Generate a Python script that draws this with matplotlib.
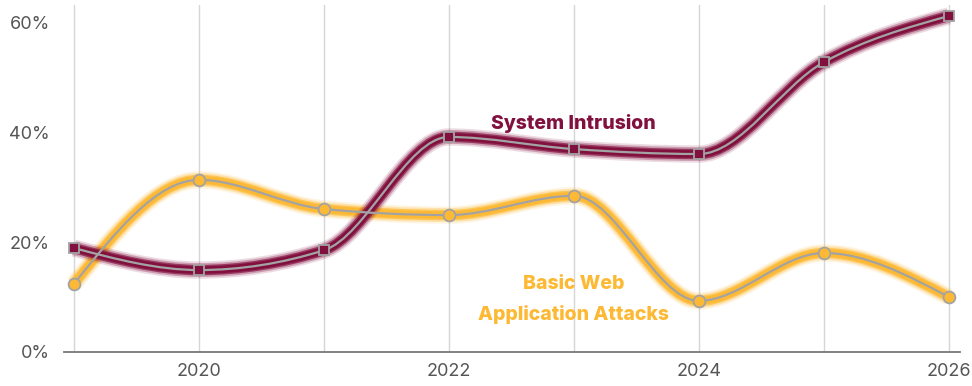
import numpy as np
import matplotlib
matplotlib.use("Agg")
import matplotlib.pyplot as plt
from matplotlib.path import Path
from matplotlib.patches import PathPatch

# ── Data ──────────────────────────────────────────────────────────────────────

YEARS = [2019, 2020, 2021, 2022, 2023, 2024, 2025, 2026]
SYSTEM_INTRUSION = [18.9, 14.9, 18.5, 39.1, 36.9, 36.0, 52.7, 61.1]
BASIC_WEB = [12.4, 31.3, 26.0, 24.9, 28.4, 9.3, 18.0, 10.0]

Y_TICKS = [0, 20, 40, 60]
Y_TICK_LABELS = ["0%", "20%", "40%", "60%"]
X_TICKS = [2020, 2022, 2024, 2026]
X_TICK_LABELS = ["2020", "2022", "2024", "2026"]

MAROON = "#82103f"
YELLOW = "#fdb934"
GRAY_LINE = "#a3a3a3"


# ── Helpers ───────────────────────────────────────────────────────────────────

def monotone_path(xs, ys):
    """Cubic Bezier path through the points (monotone-x tangents, like d3)."""
    x = np.asarray(xs, float)
    y = np.asarray(ys, float)
    h = np.diff(x)
    s = np.diff(y) / h
    m = np.zeros_like(y)
    for i in range(1, len(y) - 1):
        if s[i - 1] * s[i] <= 0:
            m[i] = 0.0
        else:
            p = (s[i - 1] * h[i] + s[i] * h[i - 1]) / (h[i - 1] + h[i])
            m[i] = np.sign(s[i - 1]) * min(abs(s[i - 1]), abs(s[i]), 0.5 * abs(p)) * 2
    m[0] = (3 * s[0] - m[1]) / 2
    m[-1] = (3 * s[-1] - m[-2]) / 2
    verts = [(x[0], y[0])]
    codes = [Path.MOVETO]
    for i in range(len(x) - 1):
        d = h[i] / 3
        verts += [(x[i] + d, y[i] + m[i] * d),
                  (x[i + 1] - d, y[i + 1] - m[i + 1] * d),
                  (x[i + 1], y[i + 1])]
        codes += [Path.CURVE4] * 3
    return Path(verts, codes)


def draw_band(ax, path, color):
    for lw, a in [(12.5, 0.15), (10.0, 0.3), (7.5, 0.7), (5.5, 1.0)]:
        ax.add_patch(PathPatch(path, fill=False, edgecolor=color, lw=lw,
                               alpha=a, capstyle="butt", zorder=2))


# ── Figure ────────────────────────────────────────────────────────────────────

plt.rcParams["font.family"] = ["Inter", "DejaVu Sans"]

fig = plt.figure(figsize=(9.72, 3.86), dpi=100)
ax = fig.add_axes([0.0658, 0.0881, 0.9219, 0.899])

for yr in YEARS:
    ax.axvline(yr, color="#d6d6d6", lw=1.0, zorder=0)

si_path = monotone_path(YEARS, SYSTEM_INTRUSION)
bw_path = monotone_path(YEARS, BASIC_WEB)

draw_band(ax, bw_path, YELLOW)
draw_band(ax, si_path, MAROON)

for p in (bw_path, si_path):
    ax.add_patch(PathPatch(p, fill=False, edgecolor=GRAY_LINE, lw=1.6, zorder=3))

ax.plot(YEARS, SYSTEM_INTRUSION, ls="none", marker="s", ms=7.5, mfc=MAROON,
        mec=GRAY_LINE, mew=1.3, zorder=4)
ax.plot(YEARS, BASIC_WEB, ls="none", marker="o", ms=8.5, mfc=YELLOW,
        mec=GRAY_LINE, mew=1.3, zorder=4)

label_kw = dict(fontsize=14, fontweight="heavy", ha="center", va="center")
ax.text(2023.0, 41.6, "System Intrusion", color=MAROON, **label_kw)
ax.text(2023.0, 12.4, "Basic Web", color=YELLOW, **label_kw)
ax.text(2023.0, 6.8, "Application Attacks", color=YELLOW, **label_kw)

ax.set_xlim(2018.92, 2026.09)
ax.set_ylim(0, 63.1)
ax.set_yticks(Y_TICKS, Y_TICK_LABELS)
ax.set_xticks(X_TICKS, X_TICK_LABELS)
ax.tick_params(axis="both", length=0, labelsize=13, colors="#555555")
ax.tick_params(axis="y", pad=10)
ax.tick_params(axis="x", pad=8)

for side in ("top", "right", "left"):
    ax.spines[side].set_visible(False)
ax.spines["bottom"].set_color("#777777")
ax.spines["bottom"].set_linewidth(1.3)

fig.savefig("out.png", dpi=100)
